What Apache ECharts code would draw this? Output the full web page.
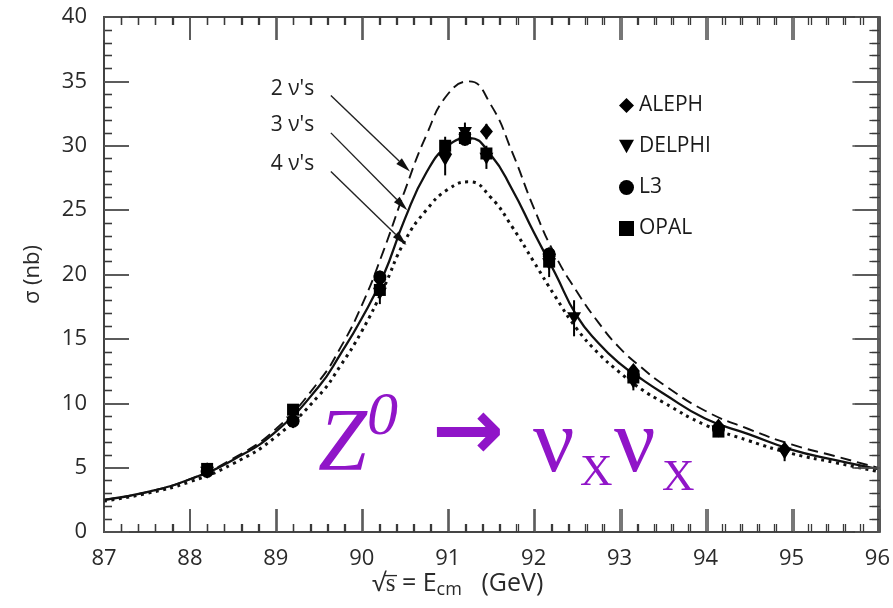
<!DOCTYPE html>
<html>
<head>
<meta charset="utf-8">
<script src="https://cdn.jsdelivr.net/npm/echarts@6/dist/echarts.min.js"></script>
<style>
html,body{margin:0;padding:0;background:#fff}
#wrap{position:relative;width:893px;height:608px}
#c,#o{position:absolute;left:0;top:0;width:893px;height:608px}
#o{pointer-events:none}
</style>
</head>
<body>
<div id="wrap"><div id="c"></div><div id="o"></div></div>
<script>
// ---- data ----
var curveE   = [87, 87.5, 88, 88.5, 89, 89.5, 89.75, 90, 90.25, 90.5, 90.75, 91, 91.25, 91.5, 91.75, 92, 92.25, 92.5, 92.75, 93, 93.25, 93.5, 94, 94.5, 95, 95.5, 96];
var sigma2nu = [2.5, 3.1, 4.1, 5.7, 8.0, 11.7, 14.3, 17.6, 21.8, 26.5, 30.8, 34.0, 35.0, 33.2, 29.5, 25.2, 21.5, 18.7, 16.3, 14.3, 12.8, 11.5, 9.4, 8.0, 6.8, 5.9, 5.0];
var sigma3nu = [2.5, 3.1, 4.1, 5.6, 7.8, 11.3, 13.8, 16.6, 19.9, 24.3, 27.9, 30.0, 30.6, 29.3, 26.6, 23.3, 20.1, 16.8, 14.7, 13.1, 11.9, 10.8, 8.8, 7.6, 6.4, 5.6, 4.9];
var sigma4nu = [2.4, 3.0, 3.9, 5.3, 7.4, 10.6, 12.9, 15.6, 18.9, 22.6, 25.0, 26.6, 27.2, 26.0, 23.7, 21.0, 18.3, 15.8, 13.9, 12.4, 11.1, 10.1, 8.3, 7.1, 6.1, 5.4, 4.7];

// [E (GeV), sigma (nb), error]
var aleph  = [[88.2,4.8,0.3],[89.2,8.7,0.3],[90.21,19.6,0.5],[90.97,29.4,0.8],[91.2,30.9,0.6],[91.45,31.1,0.6],[92.18,21.4,0.6],[93.16,12.5,0.4],[94.15,8.2,0.3],[94.92,6.4,0.4]];
var delphi = [[88.2,4.6,0.4],[89.2,8.5,0.4],[90.21,18.5,0.8],[90.97,28.9,1.2],[91.2,31.0,0.8],[91.45,29.0,0.8],[92.18,20.8,1.0],[92.47,16.6,1.4],[93.16,11.6,0.6],[94.15,7.8,0.4],[94.92,6.1,0.6]];
var l3     = [[88.2,4.7,0.3],[89.2,8.6,0.3],[90.21,19.8,0.5],[91.2,30.5,0.5],[92.18,21.6,0.5],[93.16,12.2,0.4],[94.15,8.0,0.3]];
var opal   = [[88.2,4.9,0.3],[89.2,9.5,0.4],[90.21,18.8,0.5],[90.97,30.0,0.7],[91.2,30.6,0.5],[91.45,29.4,0.6],[92.18,21.0,0.6],[93.16,12.0,0.4],[94.15,7.8,0.3]];

var experimentNames = ['ALEPH', 'DELPHI', 'L3', 'OPAL'];
var nuLabels   = ["2 ν's", "3 ν's", "4 ν's"];
var nuLabelPos = [[88.94, 34.4], [88.94, 31.6], [88.94, 28.6]];
var arrowStart = [[89.64, 33.9], [89.64, 31.0], [89.64, 28.0]];
var arrowEnd   = [[90.56, 28.0], [90.53, 25.0], [90.52, 22.3]];

var xMin = 87, xMax = 96, xMajor = 1;
var yMin = 0, yMax = 40, yMajor = 5;

// ---- shared layout ----
var gridBox = {left: 104, right: 13, top: 17, bottom: 76};
var axisColor = '#3a3a3a';
var labelFont = 'Open Sans';
var purple = '#9015c8';

function xAx(pos, showLabel, showTicks) {
  return {
    type: 'value', position: pos, min: xMin, max: xMax, interval: xMajor,
    axisLine: {show: true, onZero: false, lineStyle: {color: axisColor, width: 1.6}},
    axisTick: {show: showTicks, inside: true, length: 23, lineStyle: {color: '#555', width: 1.6}},
    minorTick: {show: showTicks, splitNumber: 5, length: 8, lineStyle: {color: axisColor, width: 1.3}},
    splitLine: {show: false}, minorSplitLine: {show: false},
    axisLabel: {show: showLabel, fontSize: 22, color: '#2a2a2a', margin: 16, fontFamily: labelFont}
  };
}
function yAx(pos, showLabel, showTicks, withName) {
  var a = {
    type: 'value', position: pos, min: yMin, max: yMax, interval: yMajor,
    axisLine: {show: true, onZero: false, lineStyle: {color: axisColor, width: 1.6}},
    axisTick: {show: showTicks, inside: true, length: 25, lineStyle: {color: '#555', width: 1.6}},
    minorTick: {show: showTicks, splitNumber: 5, length: 8, lineStyle: {color: axisColor, width: 1.3}},
    splitLine: {show: false}, minorSplitLine: {show: false},
    axisLabel: {show: showLabel, fontSize: 22, color: '#2a2a2a', margin: 17, fontFamily: labelFont}
  };
  if (withName) {
    a.name = 'σ (nb)';
    a.nameLocation = 'middle';
    a.nameGap = 60;
    a.nameTextStyle = {fontSize: 22, color: '#2a2a2a', fontFamily: labelFont};
  }
  return a;
}

function pairs(ys) { return curveE.map(function (e, i) { return [e, ys[i]]; }); }

function errSeries(name, arr) {
  return {
    type: 'custom', name: name + ' err', silent: true, z: 3,
    data: arr,
    renderItem: function (params, api) {
      var x = api.value(0), y = api.value(1), e = api.value(2);
      var p1 = api.coord([x, y - e]), p2 = api.coord([x, y + e]);
      return {type: 'line', shape: {x1: p1[0], y1: p1[1], x2: p2[0], y2: p2[1]},
              style: {stroke: '#000', lineWidth: 2}};
    }
  };
}

var arrowData = arrowStart.map(function (s, k) { return [s[0], s[1], arrowEnd[k][0], arrowEnd[k][1]]; });

var triDown = 'path://M0,0 L10,0 L5,9 Z';
var symbols = ['diamond', triDown, 'circle', 'rect'];
var sizes = [[13, 16], [14, 12], 13, 12];
var expData = [aleph, delphi, l3, opal];

var series = [
  {type: 'line', name: '2nu', data: pairs(sigma2nu), smooth: true, showSymbol: false, silent: true,
   lineStyle: {color: '#111', width: 1.9, type: [11, 6]}, z: 2},
  {type: 'line', name: '3nu', data: pairs(sigma3nu), smooth: true, showSymbol: false, silent: true,
   lineStyle: {color: '#111', width: 2.3}, z: 2,
   markPoint: {
     silent: true, symbol: 'circle', symbolSize: 0, animation: false,
     label: {show: true, position: 'right', distance: 0, formatter: function (p) { return p.name; },
             fontSize: 21, color: '#222', fontFamily: labelFont},
     data: nuLabels.map(function (t, k) { return {name: t, coord: nuLabelPos[k]}; })
   }},
  {type: 'line', name: '4nu', data: pairs(sigma4nu), smooth: true, showSymbol: false, silent: true,
   lineStyle: {color: '#111', width: 3, type: [3, 4.5]}, z: 2},
  {type: 'custom', name: 'arrows', silent: true, z: 5, data: arrowData,
   renderItem: function (params, api) {
     var a = api.coord([api.value(0), api.value(1)]);
     var b = api.coord([api.value(2), api.value(3)]);
     var dx = b[0] - a[0], dy = b[1] - a[1], L = Math.sqrt(dx * dx + dy * dy);
     var ux = dx / L, uy = dy / L, hl = 15, hw = 4;
     var bx = b[0] - ux * hl, by = b[1] - uy * hl;
     return {type: 'group', children: [
       {type: 'line', shape: {x1: a[0], y1: a[1], x2: bx, y2: by}, style: {stroke: '#222', lineWidth: 1.4}},
       {type: 'polygon', shape: {points: [[b[0], b[1]], [bx - uy * hw, by + ux * hw], [bx + uy * hw, by - ux * hw]]},
        style: {fill: '#111'}}
     ]};
   }}
];
experimentNames.forEach(function (n, k) {
  series.push(errSeries(n, expData[k]));
  series.push({type: 'scatter', name: n, data: expData[k].map(function (d) { return [d[0], d[1]]; }),
               symbol: symbols[k], symbolSize: sizes[k], itemStyle: {color: '#000', opacity: 1}, z: 4});
});

// ---- main chart: data, labels, legend, annotations ----
var chart = echarts.init(document.getElementById('c'), null, {renderer: 'canvas'});
chart.setOption({
  animation: false,
  backgroundColor: '#fff',
  grid: gridBox,
  xAxis: [xAx('bottom', true, true), xAx('top', false, true)],
  yAxis: [yAx('left', true, true, true), yAx('right', false, true, false)],
  legend: {
    data: experimentNames.map(function (n, k) { return {name: n, icon: symbols[k]}; }),
    orient: 'vertical', left: 614, top: 90, itemWidth: 15, itemHeight: 15, itemGap: 20,
    textStyle: {fontSize: 21, color: '#1a1a1a', fontFamily: labelFont},
    itemStyle: {color: '#000'}, selectedMode: false
  },
  graphic: [
    {type: 'text', left: 372, top: 571, silent: true,
     style: {text: '{a|√}{a|s̅}{a| = E}{sub|cm}{a|   (GeV)}', rich: {
       a: {fontSize: 25, fontFamily: labelFont, fill: '#2a2a2a', lineHeight: 29},
       sub: {fontSize: 18, fontFamily: labelFont, fill: '#2a2a2a', padding: [12, 0, 0, 0]}
     }}},
    {type: 'text', x: 318, y: 490, silent: true,
     style: {text: 'Z', font: 'italic 88px "Liberation Serif"', fill: purple, verticalAlign: 'bottom'}},
    {type: 'text', x: 367, y: 449, silent: true,
     style: {text: '0', font: 'italic 62px "Liberation Serif"', fill: purple, verticalAlign: 'bottom'}},
    {type: 'text', x: 432, y: 480, silent: true,
     style: {text: '→', font: 'bold 86px "DejaVu Sans"', fill: purple, verticalAlign: 'bottom'}},
    {type: 'text', x: 533, y: 493, silent: true,
     style: {text: 'ν', font: '92px "Liberation Serif"', fill: purple, verticalAlign: 'bottom'}},
    {type: 'text', x: 580, y: 496, silent: true,
     style: {text: 'X', font: '45px "Liberation Serif"', fill: purple, verticalAlign: 'bottom'}},
    {type: 'text', x: 614, y: 493, silent: true,
     style: {text: 'ν', font: '92px "Liberation Serif"', fill: purple, verticalAlign: 'bottom'}},
    {type: 'text', x: 662, y: 501, silent: true,
     style: {text: 'X', font: '45px "Liberation Serif"', fill: purple, verticalAlign: 'bottom'}}
  ],
  series: series
});

// ---- overlay chart: the same axes drawn again (frame + inward ticks), transparent ----
var frame = echarts.init(document.getElementById('o'), null, {renderer: 'canvas'});
frame.setOption({
  animation: false,
  backgroundColor: 'transparent',
  grid: gridBox,
  xAxis: [xAx('bottom', false, true), xAx('top', false, true)],
  yAxis: [yAx('left', false, true, false), yAx('right', false, true, false)],
  series: [{type: 'line', data: [], silent: true, showSymbol: false}]
});
</script>
</body>
</html>
